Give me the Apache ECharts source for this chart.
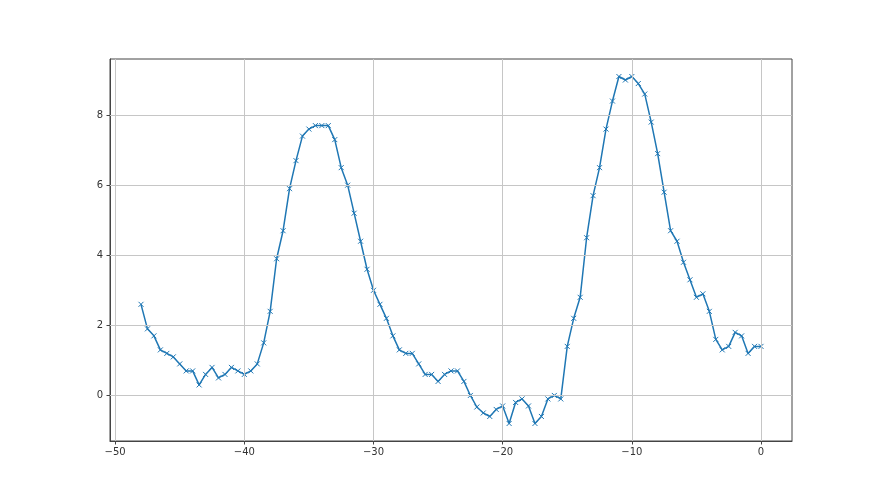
<!DOCTYPE html>
<html>
<head>
<meta charset="utf-8">
<script src="https://cdn.jsdelivr.net/npm/echarts@6/dist/echarts.min.js"></script>
<style>html,body{margin:0;padding:0;background:#fff}#c{width:880px;height:495px}</style>
</head>
<body>
<div id="c"></div>
<script>
// x positions (step 0.5 from -48 to 0)
var xStart = -48, xStep = 0.5;
var yValues = [
  2.6, 1.9, 1.7, 1.3, 1.2, 1.1, 0.9, 0.7, 0.7, 0.3,
  0.6, 0.8, 0.5, 0.6, 0.8, 0.7, 0.6, 0.7, 0.9, 1.5,
  2.4, 3.9, 4.7, 5.9, 6.7, 7.4, 7.6, 7.7, 7.7, 7.7,
  7.3, 6.5, 6.0, 5.2, 4.4, 3.6, 3.0, 2.6, 2.2, 1.7,
  1.3, 1.2, 1.2, 0.9, 0.6, 0.6, 0.4, 0.6, 0.7, 0.7,
  0.4, 0.0, -0.33, -0.5, -0.6, -0.4, -0.3, -0.8, -0.2, -0.1,
  -0.3, -0.8, -0.6, -0.1, 0.0, -0.1, 1.4, 2.2, 2.8, 4.5,
  5.7, 6.5, 7.6, 8.4, 9.1, 9.0, 9.1, 8.9, 8.6, 7.8,
  6.9, 5.8, 4.7, 4.4, 3.8, 3.3, 2.8, 2.9, 2.4, 1.6,
  1.3, 1.4, 1.8, 1.7, 1.2, 1.4, 1.4
];
var xTicks = [-50, -40, -30, -20, -10, 0];
var yTicks = [0, 2, 4, 6, 8];
var xRange = [-50.4, 2.4];
var yRange = [-1.3, 9.6];

var data = yValues.map(function (v, i) { return [xStart + i * xStep, v]; });
var fmt = function (v) { return String(v).replace('-', '\u2212'); };

var gridMarks = xTicks.map(function (v) { return { xAxis: v }; })
  .concat(yTicks.map(function (v) { return { yAxis: v }; }));

var chart = echarts.init(document.getElementById('c'), null, { renderer: 'canvas' });
chart.setOption({
  animation: false,
  backgroundColor: '#ffffff',
  grid: { left: 110, right: 88, top: 59, bottom: 54, show: true, borderColor: '#444', borderWidth: 1, backgroundColor: 'transparent', containLabel: false },
  xAxis: {
    type: 'value', min: xRange[0], max: xRange[1],
    axisLine: { show: true, onZero: false, lineStyle: { color: '#444', width: 1 } },
    axisTick: { show: true, customValues: xTicks, length: 3.5, lineStyle: { color: '#444', width: 1 } },
    axisLabel: { customValues: xTicks, formatter: fmt, color: '#333', fontFamily: 'DejaVu Sans', fontSize: 10, margin: 6 },
    splitLine: { show: false }
  },
  yAxis: {
    type: 'value', min: yRange[0], max: yRange[1],
    axisLine: { show: true, onZero: false, lineStyle: { color: '#444', width: 1 } },
    axisTick: { show: true, customValues: yTicks, length: 3.5, lineStyle: { color: '#444', width: 1 } },
    axisLabel: { customValues: yTicks, formatter: fmt, color: '#333', fontFamily: 'DejaVu Sans', fontSize: 10, margin: 7 },
    splitLine: { show: false }
  },
  series: [
    {
      type: 'line', data: [], z: 1, silent: true,
      markLine: {
        silent: true, symbol: ['none', 'none'], label: { show: false },
        lineStyle: { color: '#c6c6c6', width: 1, type: 'solid' },
        data: gridMarks
      }
    },
    {
      type: 'line', data: data, z: 3,
      lineStyle: { color: '#1f77b4', width: 1.5 },
      symbol: 'path://M0,0L10,10M10,0L0,10', symbolSize: 5,
      showAllSymbol: true,
      itemStyle: { color: '#1f77b4', borderColor: '#1f77b4', borderWidth: 1 }
    }
  ]
});
</script>
</body>
</html>
